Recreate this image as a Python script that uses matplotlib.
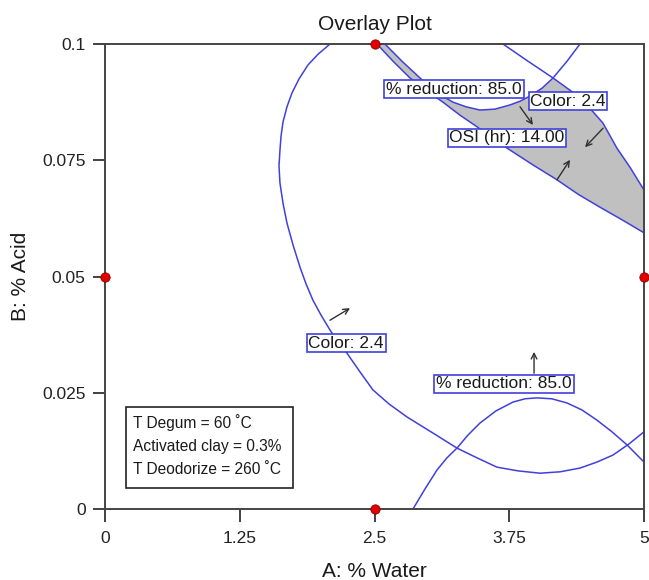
import numpy as np
import matplotlib
matplotlib.use('Agg')
import matplotlib.pyplot as plt
from matplotlib.patches import Rectangle

plt.rcParams['font.family'] = ['Liberation Sans', 'DejaVu Sans']

# contour traces (A: % water, B: % acid)
color_loop_x = [2.087, 1.976, 1.883, 1.800, 1.735, 1.688, 1.651, 1.633, 1.623, 1.614,
                1.623, 1.651, 1.688, 1.744, 1.809, 1.865, 1.929, 2.004, 2.087, 2.161,
                2.245, 2.365, 2.486, 2.634, 2.801, 3.024, 3.265, 3.451, 3.636, 3.831,
                4.035, 4.221, 4.406, 4.564, 4.712, 4.861, 5.0]
color_loop_y = [0.1, 0.0978, 0.0955, 0.0925, 0.0895, 0.0865, 0.0832, 0.0802, 0.0772, 0.0738,
                0.0701, 0.0658, 0.0615, 0.0568, 0.0520, 0.0484, 0.0449, 0.0417, 0.0385, 0.0359,
                0.0335, 0.0295, 0.0256, 0.0226, 0.0198, 0.0166, 0.0131, 0.0110, 0.0090, 0.0082,
                0.0077, 0.0080, 0.0088, 0.0101, 0.0116, 0.0140, 0.0166]

color_top_x = [3.692, 3.924, 4.156, 4.323, 4.471, 4.619, 4.749, 4.870, 5.0]
color_top_y = [0.1, 0.0963, 0.0927, 0.0899, 0.0869, 0.0830, 0.0776, 0.0735, 0.0686]

red_low_x = [2.857, 2.968, 3.080, 3.172, 3.265, 3.367, 3.479, 3.627, 3.785, 3.896,
             4.007, 4.146, 4.286, 4.425, 4.564, 4.703, 4.842, 5.0]
red_low_y = [0.0, 0.0043, 0.0084, 0.0110, 0.0131, 0.0159, 0.0185, 0.0211, 0.0230, 0.0237,
             0.0239, 0.0237, 0.0228, 0.0213, 0.0191, 0.0166, 0.0138, 0.0101]

red_top_x = [2.597, 2.755, 2.922, 3.061, 3.145, 3.228, 3.349, 3.479, 3.618, 3.757,
             3.850, 3.942, 4.054, 4.156, 4.286, 4.406]
red_top_y = [0.1, 0.0963, 0.0927, 0.0897, 0.0886, 0.0875, 0.0865, 0.0858, 0.0860, 0.0869,
             0.0877, 0.0888, 0.0905, 0.0927, 0.0963, 0.1]

osi_x = [2.523, 2.672, 2.829, 2.987, 3.135, 3.293, 3.451, 3.599, 3.757, 3.970,
         4.193, 4.388, 4.592, 4.796, 5.0]
osi_y = [0.1, 0.0963, 0.0927, 0.0899, 0.0875, 0.0847, 0.0822, 0.0796, 0.0772, 0.0740,
         0.0708, 0.0677, 0.0649, 0.0622, 0.0594]

# design points
pts_x = [0, 2.5, 5, 2.5]
pts_y = [0.05, 0.1, 0.05, 0.0]

xticks = [0, 1.25, 2.5, 3.75, 5]
xtick_labels = ['0', '1.25', '2.5', '3.75', '5']
yticks = [0, 0.025, 0.05, 0.075, 0.1]
ytick_labels = ['0', '0.025', '0.05', '0.075', '0.1']

line_c = '#4040dc'

fig = plt.figure(figsize=(6.49, 5.8), dpi=100)
ax = fig.add_axes([0.1618, 0.1224, 0.8305, 0.8017])

# sweet spot: below % reduction, left of color, above OSI
poly_x = red_top_x[:14] + color_top_x[3:] + osi_x[::-1]
poly_y = red_top_y[:14] + color_top_y[3:] + osi_y[::-1]
ax.fill(poly_x, poly_y, color='#c0c0c0', lw=0, zorder=1)

for xs, ys in [(color_loop_x, color_loop_y), (color_top_x, color_top_y),
               (red_low_x, red_low_y), (red_top_x, red_top_y), (osi_x, osi_y)]:
    ax.plot(xs, ys, color=line_c, lw=1.1, zorder=2)

ax.scatter(pts_x, pts_y, s=45, color='#e00000', edgecolor='#900000', lw=0.6,
           zorder=5, clip_on=False)

box = dict(boxstyle='square,pad=0.1', fc='white', ec=line_c, lw=1.2)
arr = dict(arrowstyle='->', color='#303030', lw=1.0, shrinkA=0, shrinkB=0)


def tag(text, x, y):
    ax.text(x, y, text, ha='center', va='center', fontsize=12.5, color='#1a1a1a',
            bbox=box, zorder=6)


tag('% reduction: 85.0', 3.237, 0.0903)
tag('Color: 2.4', 4.295, 0.0877)
tag('OSI (hr): 14.00', 3.729, 0.0798)
tag('Color: 2.4', 2.236, 0.0357)
tag('% reduction: 85.0', 3.701, 0.0269)

for (x0, y0), (x1, y1) in [((3.850, 0.0865), (3.970, 0.0826)),
                           ((4.620, 0.0819), (4.453, 0.0778)),
                           ((4.193, 0.0708), (4.314, 0.0751)),
                           ((2.087, 0.0406), (2.273, 0.0432)),
                           ((3.980, 0.0292), (3.980, 0.0338))]:
    ax.annotate('', xy=(x1, y1), xytext=(x0, y0), arrowprops=arr, zorder=4)

# factor settings box
ax.add_patch(Rectangle((0.039, 0.045), 0.31, 0.174, transform=ax.transAxes,
                       fc='white', ec='#222222', lw=1.2, zorder=6))
info = ['T Degum = 60 ˚C', 'Activated clay = 0.3%', 'T Deodorize = 260 ˚C']
for i, line in enumerate(info):
    ax.text(0.052, 0.185 - i * 0.0495, line, transform=ax.transAxes, va='center',
            fontsize=11.2, color='#1a1a1a',
            family=['Liberation Sans Narrow', 'Liberation Sans', 'DejaVu Sans'],
            zorder=7)

ax.set_xlim(0, 5)
ax.set_ylim(0, 0.1)
ax.set_xticks(xticks)
ax.set_xticklabels(xtick_labels)
ax.set_yticks(yticks)
ax.set_yticklabels(ytick_labels)
ax.tick_params(direction='out', length=9, width=1.3, color='#333333',
               labelsize=12.5, labelcolor='#222222')
ax.tick_params(axis='y', pad=5)
ax.tick_params(axis='x', pad=7)
for s in ax.spines.values():
    s.set_color('#444444')
    s.set_linewidth(1.4)

ax.set_title('Overlay Plot', fontsize=15, pad=10, color='#1a1a1a')
ax.set_xlabel('A: % Water', fontsize=15, labelpad=11, color='#1a1a1a')
ax.set_ylabel('B: % Acid', fontsize=15, labelpad=9, color='#1a1a1a')

fig.savefig('out.png', dpi=100)
